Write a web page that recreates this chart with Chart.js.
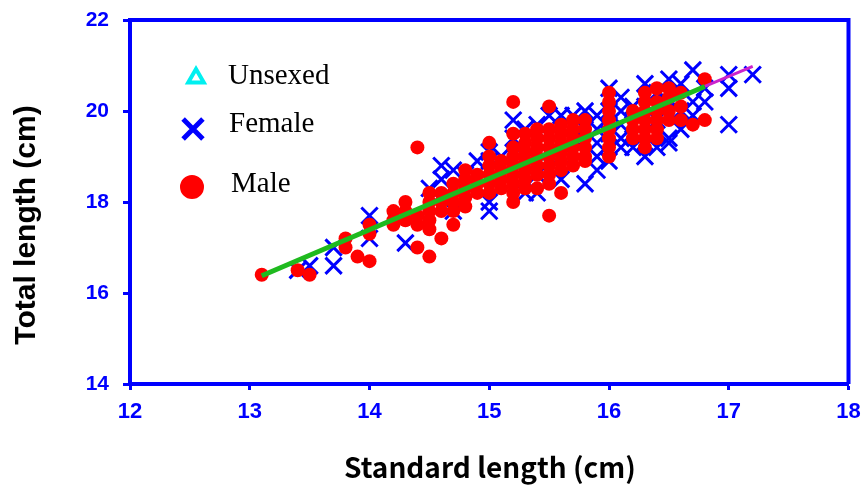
<!DOCTYPE html>
<html>
<head>
<meta charset="utf-8">
<script src="https://cdn.jsdelivr.net/npm/chart.js@4/dist/chart.umd.min.js"></script>
<style>
  html, body { margin: 0; padding: 0; background: #fff; }
  #chart { display: block; }
</style>
</head>
<body>
<canvas id="chart" width="863" height="488"></canvas>
<script>
// Standard length (x) vs total length (y), cm
const xTicks = [12, 13, 14, 15, 16, 17, 18];
const yTicks = [14, 16, 18, 20, 22];

const unsexed = [[15.5, 19.0], [15.3, 18.7]];

const female = [
    [13.4, 16.5], [13.5, 16.6], [13.7, 16.6], [13.7, 17.0], [14.0, 17.7], [14.0, 17.2],
    [14.3, 17.1], [14.5, 18.3], [14.6, 18.8], [14.6, 18.5], [14.7, 18.7], [14.7, 17.8],
    [14.8, 18.6], [14.9, 18.9], [15.0, 19.1], [15.0, 18.9], [15.0, 18.0], [15.0, 17.8],
    [15.1, 19.0], [15.2, 19.8], [15.2, 19.4], [15.3, 19.6], [15.3, 19.0], [15.3, 18.2],
    [15.4, 19.7], [15.4, 18.6], [15.4, 18.2], [15.5, 19.9], [15.5, 19.3], [15.6, 19.9],
    [15.6, 19.0], [15.6, 18.5], [15.7, 19.9], [15.7, 19.4], [15.8, 20.0], [15.8, 19.6],
    [15.8, 18.4], [15.9, 19.9], [15.9, 19.6], [15.9, 19.3], [15.9, 19.0], [15.9, 18.7],
    [16.0, 20.5], [16.0, 20.0], [16.0, 19.5], [16.0, 18.9], [16.1, 20.3], [16.1, 20.0],
    [16.1, 19.7], [16.1, 19.4], [16.1, 19.2], [16.2, 20.1], [16.2, 19.7], [16.2, 19.2],
    [16.3, 20.6], [16.3, 20.1], [16.3, 19.0], [16.4, 20.4], [16.4, 19.8], [16.4, 19.2],
    [16.5, 20.7], [16.5, 20.2], [16.5, 19.4], [16.5, 19.3], [16.6, 20.6], [16.6, 20.0],
    [16.6, 19.6], [16.7, 20.9], [16.7, 20.2], [16.7, 19.9], [16.8, 20.5], [16.8, 20.2],
    [17.0, 20.8], [17.0, 20.5], [17.0, 19.7], [17.2, 20.8]
];

const male = [
    [13.1, 16.4], [13.4, 16.5], [13.5, 16.4], [13.8, 17.2], [13.8, 17.0], [13.9, 16.8],
    [14.0, 16.7], [14.0, 17.3], [14.0, 17.5], [14.2, 17.8], [14.2, 17.6], [14.2, 17.5],
    [14.3, 18.0], [14.3, 17.8], [14.3, 17.6], [14.4, 17.7], [14.4, 17.5], [14.4, 17.0],
    [14.4, 19.2], [14.5, 18.2], [14.5, 18.0], [14.5, 17.8], [14.5, 17.6], [14.5, 17.4],
    [14.5, 16.8], [14.6, 18.2], [14.6, 18.0], [14.6, 17.8], [14.6, 17.2], [14.7, 18.4],
    [14.7, 18.2], [14.7, 18.0], [14.7, 17.8], [14.7, 17.5], [14.8, 18.7], [14.8, 18.5],
    [14.8, 18.3], [14.8, 18.1], [14.8, 17.9], [14.9, 18.6], [14.9, 18.4], [14.9, 18.2],
    [15.0, 19.3], [15.0, 19.0], [15.0, 18.8], [15.0, 18.6], [15.0, 18.4], [15.0, 18.2],
    [15.1, 18.9], [15.1, 18.7], [15.1, 18.5], [15.1, 18.3], [15.2, 20.2], [15.2, 19.5],
    [15.2, 19.2], [15.2, 19.0], [15.2, 18.8], [15.2, 18.6], [15.2, 18.4], [15.2, 18.2],
    [15.2, 18.0], [15.3, 19.5], [15.3, 19.3], [15.3, 19.1], [15.3, 18.9], [15.3, 18.7],
    [15.3, 18.5], [15.3, 18.3], [15.4, 19.6], [15.4, 19.4], [15.4, 19.2], [15.4, 19.0],
    [15.4, 18.8], [15.4, 18.6], [15.4, 18.3], [15.5, 20.1], [15.5, 19.6], [15.5, 19.4],
    [15.5, 19.2], [15.5, 19.0], [15.5, 18.8], [15.5, 18.6], [15.5, 18.4], [15.5, 17.7],
    [15.6, 19.7], [15.6, 19.5], [15.6, 19.3], [15.6, 19.1], [15.6, 18.9], [15.6, 18.7],
    [15.6, 18.2], [15.7, 19.8], [15.7, 19.6], [15.7, 19.4], [15.7, 19.2], [15.7, 19.0],
    [15.7, 18.8], [15.8, 19.8], [15.8, 19.6], [15.8, 19.4], [15.8, 19.2], [15.8, 19.0],
    [15.8, 18.9], [16.0, 20.4], [16.0, 20.2], [16.0, 20.0], [16.0, 19.8], [16.0, 19.6],
    [16.0, 19.4], [16.0, 19.2], [16.0, 19.0], [16.2, 20.0], [16.2, 19.8], [16.2, 19.6],
    [16.2, 19.4], [16.3, 20.4], [16.3, 20.2], [16.3, 20.0], [16.3, 19.8], [16.3, 19.6],
    [16.3, 19.4], [16.3, 19.2], [16.4, 20.5], [16.4, 20.2], [16.4, 20.0], [16.4, 19.8],
    [16.4, 19.6], [16.4, 19.4], [16.5, 20.5], [16.5, 20.3], [16.5, 20.0], [16.5, 19.8],
    [16.6, 20.4], [16.6, 20.1], [16.6, 19.8], [16.7, 19.7], [16.8, 19.8], [16.8, 20.7]
];

// regression lines (end points)
const fitSL = [13.1, 16.8];
const fitTL = [16.38, 20.54];
const extSL = [16.8, 17.2];
const extTL = [20.54, 20.98];

const legendItems = [
    { text: 'Unsexed', style: 'triangle', color: '#00f0f0' },
    { text: 'Female', style: 'crossRot', color: '#0000ff' },
    { text: 'Male', style: 'circle', color: '#ff0000' },
];

const toXY = (arr) => arr.map(([x, y]) => ({ x, y }));
const zip = (xs, ys) => xs.map((x, i) => ({ x, y: ys[i] }));

const BLUE = '#0000ff';

const frameAndText = {
    id: 'frameAndText',
    beforeDatasetsDraw(chart) {
        const { ctx, chartArea: a } = chart;
        ctx.save();
        ctx.strokeStyle = BLUE;
        ctx.lineWidth = 4;
        ctx.beginPath();
        ctx.moveTo(a.left, a.top);
        ctx.lineTo(a.right, a.top);
        ctx.lineTo(a.right, a.bottom);
        ctx.stroke();
        ctx.restore();
    },
    afterDraw(chart) {
        const { ctx } = chart;
        ctx.save();
        // legend inside the plot
        const pos = [[196, 78, 228, 76], [193, 129, 229, 124], [192, 187, 231, 184]];
        legendItems.forEach((item, i) => {
            const [mx, my, tx, ty] = pos[i];
            ctx.strokeStyle = item.color;
            ctx.fillStyle = item.style === 'triangle' ? '#ffffff' : item.color;
            ctx.lineWidth = item.style === 'crossRot' ? 5 : 4;
            const r = item.style === 'circle' ? 10 : item.style === 'crossRot' ? 14 : 9;
            Chart.helpers.drawPoint(ctx, { pointStyle: item.style, radius: r, borderWidth: ctx.lineWidth }, mx, my);
            ctx.fillStyle = '#000';
            ctx.font = '29px "Liberation Serif"';
            ctx.textBaseline = 'middle';
            ctx.textAlign = 'left';
            ctx.fillText(item.text, tx, ty);
        });
        // axis titles
        ctx.fillStyle = '#000';
        ctx.font = 'bold 28px "Noto Sans CJK JP"';
        ctx.textAlign = 'center';
        ctx.textBaseline = 'alphabetic';
        ctx.fillText('Standard length (cm)', 490, 478);
        ctx.translate(35, 225);
        ctx.rotate(-Math.PI / 2);
        ctx.font = 'bold 30px "Liberation Sans"';
        ctx.fillText('Total length (cm)', 0, 0);
        ctx.restore();
    }
};

new Chart(document.getElementById('chart'), {
    type: 'scatter',
    data: {
        datasets: [
            {
                label: 'Fit',
                data: zip(fitSL, fitTL),
                showLine: true,
                borderColor: '#1fba1f',
                borderWidth: 5,
                pointRadius: 0,
                order: 0,
            },
            {
                label: 'Fit extension',
                data: zip(extSL, extTL),
                showLine: true,
                borderColor: '#cc22cc',
                borderWidth: 3,
                pointRadius: 0,
                order: 0,
            },
            {
                label: 'Male',
                data: toXY(male),
                pointStyle: 'circle',
                pointRadius: 7,
                backgroundColor: '#ff0000',
                borderColor: '#ff0000',
                borderWidth: 0,
                order: 1,
            },
            {
                label: 'Female',
                data: toXY(female),
                pointStyle: 'crossRot',
                pointRadius: 11.5,
                borderColor: '#0000ff',
                borderWidth: 3,
                order: 2,
            },
            {
                label: 'Unsexed',
                data: toXY(unsexed),
                pointStyle: 'triangle',
                pointRadius: 6,
                backgroundColor: '#ffffff',
                borderColor: '#00f0f0',
                borderWidth: 3,
                order: 3,
            },
        ],
    },
    options: {
        responsive: false,
        animation: false,
        devicePixelRatio: 1,
        layout: { padding: { top: 20, right: 14, left: 0, bottom: 0 } },
        plugins: { legend: { display: false }, tooltip: { enabled: false } },
        scales: {
            x: {
                type: 'linear',
                min: 12,
                max: 18,
                afterBuildTicks: (s) => { s.ticks = xTicks.map((v) => ({ value: v })); },
                afterFit: (s) => {
                    s.height = 104;
                    s.paddingLeft = 0;
                    s.paddingRight = 0;
                },
                grid: { drawOnChartArea: false, drawTicks: true, tickLength: 6, tickWidth: 3, tickColor: BLUE },
                border: { color: BLUE, width: 4 },
                ticks: {
                    color: BLUE,
                    padding: 9,
                    font: { family: '"Liberation Sans"', size: 22, weight: 'bold' },
                },
            },
            y: {
                type: 'linear',
                min: 14,
                max: 22,
                afterBuildTicks: (s) => { s.ticks = yTicks.map((v) => ({ value: v })); },
                afterFit: (s) => {
                    s.width = 130;
                    s.paddingTop = 0;
                    s.paddingBottom = 0;
                },
                grid: { drawOnChartArea: false, drawTicks: true, tickLength: 7, tickWidth: 3, tickColor: BLUE },
                border: { color: BLUE, width: 4 },
                ticks: {
                    color: BLUE,
                    padding: 14,
                    font: { family: '"Liberation Sans"', size: 21, weight: 'bold' },
                },
            },
        },
    },
    plugins: [frameAndText],
});
</script>
</body>
</html>
